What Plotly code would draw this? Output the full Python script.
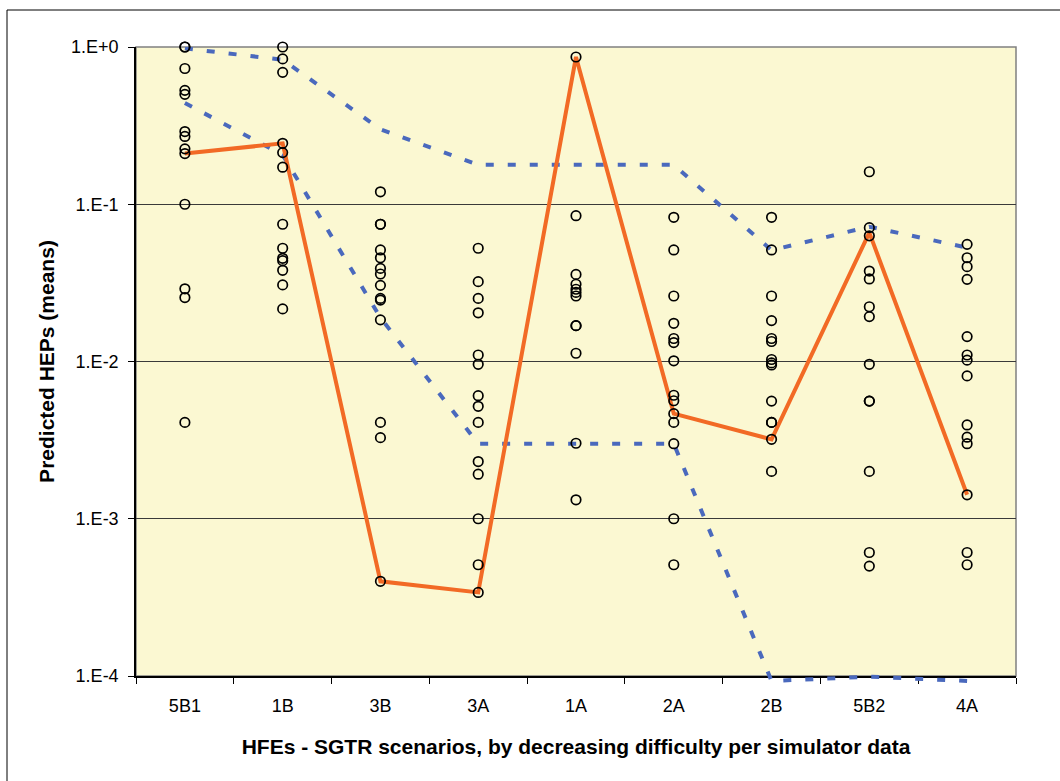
import plotly.graph_objects as go

# HFE scenarios, ordered by decreasing difficulty per simulator data
hfe = ["5B1", "1B", "3B", "3A", "1A", "2A", "2B", "5B2", "4A"]

# Predicted HEPs (means) from each method, per HFE
hep_5B1 = [1.0, 1.0, 0.73, 0.53, 0.50, 0.29, 0.27, 0.225, 0.21, 0.10, 0.029, 0.0255, 0.0041]
hep_1B = [1.0, 0.84, 0.69, 0.244, 0.213, 0.172, 0.0746, 0.0525, 0.0453, 0.0438, 0.038, 0.0307, 0.0216]
hep_3B = [0.120, 0.0746, 0.0746, 0.0512, 0.0457, 0.0391, 0.036, 0.0305, 0.0252, 0.0246, 0.0184,
          0.0041, 0.00328, 0.0004]
hep_3A = [0.0525, 0.0322, 0.0252, 0.0204, 0.0110, 0.0096, 0.00606, 0.00519, 0.0041, 0.00231, 0.00192,
          0.0010, 0.00051, 0.00034]
hep_1A = [0.864, 0.0846, 0.0358, 0.031, 0.0288, 0.0275, 0.0261, 0.0169, 0.0169, 0.01128, 0.00302, 0.00132]
hep_2A = [0.0826, 0.0512, 0.0261, 0.0175, 0.0140, 0.0132, 0.0101, 0.0061, 0.00563, 0.00466, 0.0041,
          0.0030, 0.0010, 0.00051]
hep_2B = [0.0826, 0.0512, 0.0261, 0.0182, 0.0140, 0.0134, 0.0103, 0.0098, 0.0095, 0.0056, 0.0041,
          0.0041, 0.0032, 0.0020]
hep_5B2 = [0.161, 0.071, 0.063, 0.0376, 0.0335, 0.0223, 0.0193, 0.0096, 0.0056, 0.0056, 0.0020,
           0.00061, 0.0005]
hep_4A = [0.0556, 0.0457, 0.0401, 0.0333, 0.0144, 0.0110, 0.0102, 0.0081, 0.00395, 0.0033, 0.0030,
          0.00142, 0.00061, 0.00051]

# Highlighted method (solid line) and the envelope of the estimates (dashed lines)
mean_hep = [0.21, 0.244, 0.0004, 0.00034, 0.864, 0.00466, 0.0032, 0.066, 0.00142]
upper_bound = [0.98, 0.83, 0.30, 0.178, 0.178, 0.178, 0.051, 0.072, 0.053]
lower_bound = [0.44, 0.206, 0.019, 0.0030, 0.0030, 0.0030, 0.000093, 0.000099, 0.000093]

ytick_vals = [1e-4, 1e-3, 1e-2, 1e-1, 1.0]
ytick_text = ["1.E-4", "1.E-3", "1.E-2", "1.E-1", "1.E+0"]

x_title = "HFEs - SGTR scenarios, by decreasing difficulty per simulator data"
y_title = "Predicted HEPs (means)"

BLUE = "#4A69BD"
ORANGE = "#F26A25"
FRAME_BG = "#FBF8D2"
FONT = "Liberation Sans, Arial, sans-serif"

# geometry: frame spans 629 px for 4 decades; the data layer reaches 10 px lower
W, H = 1060, 781
M_L, M_R, M_T, M_B = 136, 44, 47, 95
plot_h = H - M_T - M_B
plot_w = W - M_L - M_R
extra = 10
frame_bottom = extra / plot_h
px_per_decade = (plot_h - extra) / 4.0

per_hfe = [hep_5B1, hep_1B, hep_3B, hep_3A, hep_1A, hep_2A, hep_2B, hep_5B2, hep_4A]
pts_x = [h for h, vals in zip(hfe, per_hfe) for _ in vals]
pts_y = [v for vals in per_hfe for v in vals]

fig = go.Figure()

# empty trace so the framed axes get their own subplot
fig.add_trace(go.Scatter(x=[], y=[], xaxis="x", yaxis="y", mode="markers",
                         showlegend=False, hoverinfo="skip"))

dash_line = dict(color=BLUE, width=4, dash="8px,14px")
fig.add_trace(go.Scatter(x=hfe, y=upper_bound, mode="lines", line=dash_line,
                         xaxis="x2", yaxis="y2", showlegend=False, hoverinfo="skip"))
fig.add_trace(go.Scatter(x=hfe, y=lower_bound, mode="lines", line=dash_line,
                         xaxis="x2", yaxis="y2", showlegend=False, hoverinfo="skip"))
fig.add_trace(go.Scatter(x=hfe, y=mean_hep, mode="lines",
                         line=dict(color=ORANGE, width=4),
                         xaxis="x2", yaxis="y2", showlegend=False))
fig.add_trace(go.Scatter(x=pts_x, y=pts_y, mode="markers",
                         marker=dict(symbol="circle-open", size=9.5, color="black",
                                     line=dict(width=1.7, color="black")),
                         cliponaxis=False, xaxis="x2", yaxis="y2", showlegend=False))

tick_font = dict(family=FONT, size=18, color="black")
title_font = dict(family=FONT, size=21, color="black")

fig.update_layout(
    width=W, height=H,
    margin=dict(l=M_L, r=M_R, t=M_T, b=M_B, pad=0),
    paper_bgcolor="white",
    plot_bgcolor="rgba(0,0,0,0)",
    xaxis=dict(
        type="category", categoryorder="array", categoryarray=hfe,
        range=[-0.5, len(hfe) - 0.5], domain=[0, 1], anchor="y",
        showline=True, linecolor="black", linewidth=1.5,
        ticks="outside", ticklen=6, tickwidth=1, tickcolor="black",
        tickson="boundaries", showgrid=False, zeroline=False,
        tickfont=tick_font, ticklabelstandoff=13,
        title=dict(text="<b>" + x_title + "</b>", font=title_font, standoff=24),
    ),
    yaxis=dict(
        type="log", range=[-4, 0], domain=[frame_bottom, 1], anchor="x",
        showline=True, linecolor="black", linewidth=1.5,
        ticks="outside", ticklen=6, tickwidth=1, tickcolor="black",
        tickvals=ytick_vals, ticktext=ytick_text,
        showgrid=True, gridcolor="#3a3a3a", gridwidth=1, zeroline=False,
        tickfont=tick_font, ticklabelstandoff=6,
        title=dict(text="<b>" + y_title + "</b>", font=title_font, standoff=11),
    ),
    xaxis2=dict(
        type="category", categoryorder="array", categoryarray=hfe,
        range=[-0.5, len(hfe) - 0.5], domain=[0, 1], anchor="y2", visible=False,
    ),
    yaxis2=dict(
        type="log", range=[-4 - extra / px_per_decade, 0], domain=[0, 1],
        anchor="x2", visible=False,
    ),
    shapes=[
        # frame fill and outline
        dict(type="rect", xref="x domain", yref="y domain", x0=0, y0=0, x1=1, y1=1,
             fillcolor=FRAME_BG, line=dict(color="#808080", width=1.5), layer="below"),
        # chart border
        dict(type="rect", xref="paper", yref="paper",
             x0=(7 - M_L) / plot_w, x1=(1075 - M_L) / plot_w,
             y0=(H - M_B - 800) / plot_h, y1=1 + (M_T - 10) / plot_h,
             line=dict(color="black", width=1), layer="above"),
    ],
)

fig.write_html("out.html")
